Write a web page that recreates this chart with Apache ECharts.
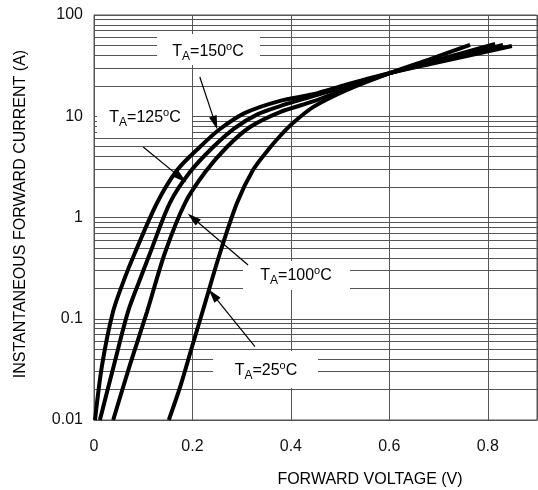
<!DOCTYPE html>
<html>
<head>
<meta charset="utf-8">
<script src="https://cdn.jsdelivr.net/npm/echarts@6.0.0/dist/echarts.min.js"></script>
<style>
  html, body { margin: 0; padding: 0; background: #fff; }
  #root { width: 538px; height: 490px; }
</style>
</head>
<body>
<div id="root"></div>
<script>
const FONT = '"Liberation Sans", Arial, sans-serif';

// forward voltage (V) and instantaneous current (A)
const v150 = [0.002, 0.0165, 0.0386, 0.061, 0.083, 0.128, 0.169, 0.215, 0.256, 0.307, 0.378, 0.445, 0.514, 0.601, 0.683, 0.849];
const i150 = [0.01, 0.035, 0.117, 0.242, 0.446, 1.39, 2.94, 4.97, 7.48, 10.8, 14.2, 16.5, 20.6, 26.7, 32.8, 49.4];

const v125 = [0.012, 0.0406, 0.069, 0.0914, 0.114, 0.154, 0.195, 0.242, 0.286, 0.333, 0.378, 0.445, 0.514, 0.601, 0.683, 0.831];
const i125 = [0.01, 0.035, 0.117, 0.231, 0.446, 1.39, 2.81, 4.97, 7.65, 10.5, 12.6, 15.8, 19.9, 26.7, 33.6, 50.6];

const v100 = [0.039, 0.073, 0.1077, 0.144, 0.185, 0.226, 0.270, 0.317, 0.378, 0.445, 0.514, 0.601, 0.683, 0.815];
const i100 = [0.01, 0.035, 0.117, 0.446, 1.39, 2.81, 4.97, 7.83, 11.0, 14.0, 18.8, 26.7, 34.4, 51.8];

const v25 = [0.152, 0.175, 0.199, 0.2215, 0.256, 0.2905, 0.323, 0.3535, 0.378, 0.402, 0.445, 0.514, 0.601, 0.683, 0.764];
const i25 = [0.01, 0.0212, 0.0526, 0.122, 0.446, 1.39, 2.94, 4.64, 6.38, 8.38, 12.3, 18.2, 26.7, 36.7, 50.6];

const xTicks = [0, 0.2, 0.4, 0.6, 0.8];
const yTicks = [0.01, 0.1, 1, 10, 100];
const minorSteps = [2, 3, 4, 5, 6, 7, 8, 9];

// temperature labels and their arrows: [fromV, fromI, toV, toI]
const temps = ['150', '125', '100', '25'];
const arrows = [
  [0.215, 24.4, 0.246, 8.6],
  [0.100, 4.97, 0.177, 2.45],
  [0.313, 0.34, 0.201, 0.99],
  [0.327, 0.053, 0.242, 0.172],
];

// white label boxes (pixels) and text centre
const boxes = [
  { x: 157, y: 34, w: 103, h: 31, cx: 208, cy: 52 },
  { x: 97, y: 103, w: 95, h: 30, cx: 145, cy: 118 },
  { x: 243, y: 261, w: 107, h: 29, cx: 296, cy: 276 },
  { x: 213, y: 351, w: 105, h: 37, cx: 266, cy: 371 },
];

const curves = [
  [v150, i150],
  [v125, i125],
  [v100, i100],
  [v25, i25],
];

const minorLevels = [];
yTicks.slice(0, -1).forEach((d) => {
  minorSteps.forEach((m) => minorLevels.push(d * m));
});

const rich = {
  n: { fontSize: 16, fontFamily: FONT, fill: '#000', lineHeight: 22, verticalAlign: 'middle' },
  s: { fontSize: 12, fontFamily: FONT, fill: '#000', lineHeight: 10, verticalAlign: 'bottom' },
  o: { fontSize: 11, fontFamily: FONT, fill: '#000', lineHeight: 12, verticalAlign: 'top' },
};

const graphic = [];
boxes.forEach((b, k) => {
  graphic.push({
    type: 'rect', z: 3, silent: true,
    shape: { x: b.x, y: b.y, width: b.w, height: b.h },
    style: { fill: '#fff' },
  });
  graphic.push({
    type: 'text', z: 10, silent: true, x: b.cx, y: b.cy,
    style: {
      text: '{n|T}{s|A}{n|=' + temps[k] + '}{o|o}{n|C}',
      rich: rich, align: 'center', verticalAlign: 'middle',
    },
  });
});
graphic.push({
  type: 'text', z: 10, silent: true, x: 370, y: 480,
  style: {
    text: 'FORWARD VOLTAGE (V)', fill: '#000', font: '16px ' + FONT,
    align: 'center', verticalAlign: 'middle',
  },
});
graphic.push({
  type: 'text', z: 10, silent: true, x: 21, y: 214, rotation: Math.PI / 2,
  style: {
    text: 'INSTANTANEOUS FORWARD CURRENT (A)', fill: '#000', font: '16px ' + FONT,
    align: 'center', verticalAlign: 'middle',
  },
});

const chart = echarts.init(document.getElementById('root'), null, { renderer: 'canvas' });

const option = {
  animation: false,
  backgroundColor: '#fff',
  grid: {
    left: 94, right: 1, top: 15, bottom: 70,
    show: true, borderColor: '#555', borderWidth: 1,
    containLabel: false, outerBoundsMode: 'none',
  },
  xAxis: {
    type: 'value', min: 0, max: 0.9, interval: 0.2,
    axisLine: { show: true, lineStyle: { color: '#555', width: 1 } },
    axisTick: { show: false },
    axisLabel: {
      margin: 19, fontSize: 16, fontFamily: FONT, color: '#111',
      formatter: (v) => (xTicks.some((t) => Math.abs(t - v) < 1e-6) ? String(+v.toFixed(1)) : ''),
    },
    splitLine: { show: true, lineStyle: { color: '#555', width: 1 } },
  },
  yAxis: {
    type: 'log', logBase: 10, min: yTicks[0], max: yTicks[yTicks.length - 1],
    axisLine: { show: true, lineStyle: { color: '#555', width: 1 } },
    axisTick: { show: false },
    axisLabel: {
      margin: 11, fontSize: 16, fontFamily: FONT, color: '#111',
      formatter: (v) => String(+v.toPrecision(1)),
    },
    splitLine: { show: true, lineStyle: { color: '#555', width: 1 } },
  },
  graphic: graphic,
  series: curves.map((c) => ({
    type: 'line',
    data: c[0].map((v, k) => [v, c[1][k]]),
    symbol: 'none',
    smooth: 0.3,
    silent: true,
    z: 2,
    lineStyle: { color: '#000', width: 4 },
  })).concat([
    {
      type: 'line', data: [], silent: true,
      markLine: {
        z: 1, silent: true, animation: false, symbol: 'none',
        label: { show: false },
        lineStyle: { color: '#555', width: 1, type: 'solid' },
        emphasis: { disabled: true },
        data: minorLevels.map((y) => ({ yAxis: y })),
      },
    },
    {
      type: 'line', data: [], silent: true,
      markLine: {
        z: 6, silent: true, animation: false,
        symbol: ['none', 'triangle'], symbolSize: [8, 14],
        label: { show: false },
        lineStyle: { color: '#000', width: 1.2, type: 'solid' },
        itemStyle: { color: '#000' },
        emphasis: { disabled: true },
        data: arrows.map((a) => [{ coord: [a[0], a[1]] }, { coord: [a[2], a[3]] }]),
      },
    },
  ]),
};

chart.setOption(option);
</script>
</body>
</html>
